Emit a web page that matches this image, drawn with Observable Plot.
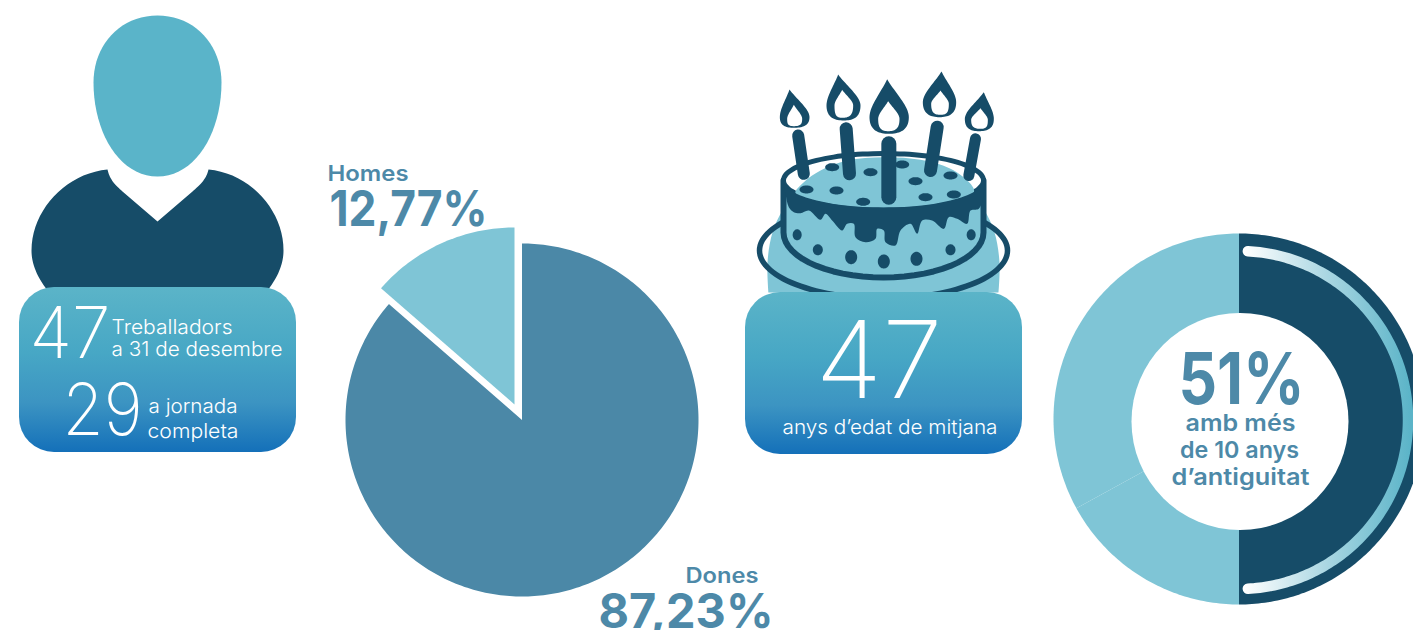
<!DOCTYPE html>
<html lang="ca">
<head>
<meta charset="utf-8">
<style>html,body{margin:0;padding:0;background:#fff;overflow:hidden}</style>
<script src="https://cdn.jsdelivr.net/npm/d3@7"></script>
<script src="https://cdn.jsdelivr.net/npm/@observablehq/plot@0.6"></script>
</head>
<body>
<script>
// Data as shown. The pie and the ring are drawn at the angles seen in the picture.
const pieCategories = ["Dones", "Homes"];
const pieLabels = ["87,23%", "12,77%"];
const pieDrawnShares = [86.4, 13.6];
const ringLabel = "51%";
const ringDrawnShares = [50, 17, 33];
const ringColors = ["#164c68", "#7fc5d6", "#7fc5d6"];
const workers = "47", fullTime = "29", meanAge = "47";

const NAVY = "#164c68", LIGHT = "#7fc5d6", MID = "#4b88a7", HEAD = "#5ab4c9", TXT = "#4d89a8";
const rad = d => d * Math.PI / 180;
const polar = (cx, cy, r, a) => [cx + r * Math.sin(rad(a)), cy - r * Math.cos(rad(a))];
function sector(cx, cy, r, a0, a1) {
  const p = [[cx, cy]];
  for (let a = a0; a < a1; a += 1) p.push(polar(cx, cy, r, a));
  p.push(polar(cx, cy, r, a1));
  return p;
}
function arc(cx, cy, r, a0, a1) { return sector(cx, cy, r, a0, a1).slice(1); }
function ell(cx, cy, rx, ry) {
  const p = [];
  for (let a = 0; a < 360; a += 6) p.push([cx + rx * Math.cos(rad(a)), cy + ry * Math.sin(rad(a))]);
  return p;
}
// outline from cubic segments: start, then [c1x,c1y,c2x,c2y,x,y] or [x,y] for a straight run
function outline(start, segs) {
  const p = [start];
  let cur = start;
  for (const s of segs) {
    if (s.length === 2) { p.push(s); cur = s; continue; }
    for (let i = 1; i <= 20; i++) {
      const t = i / 20, u = 1 - t;
      p.push([
        u*u*u*cur[0] + 3*u*u*t*s[0] + 3*u*t*t*s[2] + t*t*t*s[4],
        u*u*u*cur[1] + 3*u*u*t*s[1] + 3*u*t*t*s[3] + t*t*t*s[5]
      ]);
    }
    cur = [s[4], s[5]];
  }
  return p;
}
const shape = (pts, o = {}) => Plot.line(pts, {x: d => d[0], y: d => d[1], stroke: "none", ...o});
const cl = {curve: "catmull-rom-closed"};
const textWidths = [];
const txt = (s, x, y, size, weight, fill, width, anchor = "start") => {
  textWidths.push(width);
  return Plot.text([s], {x: () => x, y: () => y, text: d => d, fontSize: size, fontWeight: weight, fill, textAnchor: anchor,
    lineAnchor: "bottom", fontFamily: "Inter, 'Open Sans', sans-serif"});
};
const z = (zx, zy) => [740 + zx / 3, 60 + zy / 3];
const zs = a => a.map(([x, y]) => z(x, y));

// pie
const pieArcs = d3.pie().sort(null)(pieDrawnShares);
const toDeg = r => r * 180 / Math.PI;
const donesSlice = sector(521.5, 419.5, 176.5, toDeg(pieArcs[0].startAngle), toDeg(pieArcs[0].endAngle));
const homesSlice = sector(514, 404, 177, toDeg(pieArcs[1].startAngle), toDeg(pieArcs[1].endAngle));

// ring
const ringArcs = d3.pie().sort(null)(ringDrawnShares);
const ringMarks = ringArcs.map((a, i) =>
  shape(sector(1238.5, 418.5, 185.5, toDeg(a.startAngle), toDeg(a.endAngle)), {fill: ringColors[i]}));

// person
const headPts = outline([157,15], [[195,15,221,45,221,82],[221,132,195,176,157,176],[119,176,93,132,93,82],[93,45,119,15,157,15]]);
const bodyPts = outline([107,169], [[109,178,113,183,122,191],[157,221],[192,191],[201,183,206,178,208,169],[250,173,283,210,283,250],[283,265,276,280,262,296],[52,296],[38,280,31,265,31,250],[31,210,65,173,107,169]]);

// cake
const domePts = [[768,292],[767,262],[772,232],[783,208],[810,172],[850,160],[883,157],[916,160],[956,172],[983,208],[994,232],[999,262],[998,292]];
const bodyCake = [[783,180],...Array.from({length: 31}, (_, i) => { const a = 180 - i * 6; return [883 + 100 * Math.cos(rad(a)), 232 + 45 * Math.sin(rad(a))]; }),[983,180]];
const topFront = Array.from({length: 16}, (_, i) => { const a = i * 12; return [883 + 100 * Math.cos(rad(a)), 180 + 27 * Math.sin(rad(a))]; });
const icing = [...topFront, ...zs([[135,400],[145,440],[160,455],[180,458],[205,450],[240,478],[255,460],[275,480],[305,510],[320,490],[340,490],[345,530],[375,545],[405,535],[410,505],[430,510],[435,545],[465,555],[480,510],[510,490],[530,520],[545,480],[575,480],[610,505],[625,470],[650,475],[680,490],[690,450],[715,445],[730,400]])];
const topInner = zs([[165,398],[190,365],[240,330],[320,300],[430,290],[540,298],[630,325],[690,370],[700,395],[600,428],[430,442],[260,428]]);
const sideDots = [[170,523,4.5,5.5],[232,568,5,5.5],[332,590,6,7],[430,603,6,7],[528,595,6,7],[630,568,5,5.5],[692,523,4.5,5.5]];
const topDots = [[275,320],[390,335],[485,312],[525,362],[630,345],[640,402],[555,410],[368,424],[288,390],[198,387]];
const candles = [[173,225,190,340,12],[317,205,327,340,13],[445,250,445,410,15],[590,200,570,330,13],[705,235,685,345,11]];
const flames = [[147,87,118,207,170,160,202,160,133,140,185,175,197],[293,42,258,360,135,310,180,305,88,282,338,135,172],[440,56,387,505,170,445,220,443,122,413,477,175,212],[603,33,547,647,125,597,170,600,90,572,625,130,163],[730,95,673,760,175,715,212,720,143,692,742,178,205]];
function tear(tx, ty, l, r, wy, bx, by) {
  return zs(outline([tx, ty], [
    [tx + (r - tx) * .35, ty + (wy - ty) * .35, r, wy - (wy - ty) * .3, r, wy],
    [r, by - (by - wy) * .3, (r + bx) / 2 + 8, by, bx, by],
    [(l + bx) / 2 - 8, by, l, by - (by - wy) * .3, l, wy],
    [l, wy - (wy - ty) * .3, tx - (tx - l) * .35, ty + (wy - ty) * .35, tx, ty]
  ]));
}

const marks = [
  // person
  shape(bodyPts, {fill: NAVY}),
  shape(headPts, {fill: HEAD}),
  Plot.rect([0], {x1: () => 19, x2: () => 296, y1: () => 287, y2: () => 452, rx: 35, fill: "url(#boxGrad)"}),
  txt(workers, 29, 357, 72, 150, "#fff", 81),
  txt("Treballadors", 111, 333, 20, 300, "#fff", 121),
  txt("a 31 de desembre", 111, 355, 20, 300, "#fff", 171),
  txt(fullTime, 62, 434, 72, 150, "#fff", 80),
  txt("a jornada", 148, 412, 20, 300, "#fff", 89),
  txt("completa", 147, 437, 20, 300, "#fff", 91),

  // pie
  shape(donesSlice, {fill: MID}),
  shape(homesSlice, {fill: LIGHT}),
  txt(pieCategories[1], 327, 180, 22, 600, TXT, 81),
  txt(pieLabels[1], 329, 225, 50, 700, TXT, 158),
  txt(pieCategories[0], 685, 582, 21, 600, TXT, 73),
  txt(pieLabels[0], 598, 627, 48, 700, TXT, 175),

  // cake
  shape(domePts, {fill: LIGHT, curve: "catmull-rom"}),
  shape(ell(883, 250, 124, 48), {stroke: NAVY, strokeWidth: 5.5, ...cl}),
  shape(bodyCake, {fill: LIGHT, stroke: NAVY, strokeWidth: 6}),
  shape(ell(883, 180, 100, 27), {fill: "#fff", stroke: NAVY, strokeWidth: 5, ...cl}),
  shape(topInner, {fill: LIGHT, ...cl}),
  shape(icing, {fill: NAVY, curve: "catmull-rom-closed"}),
  ...sideDots.map(d => shape(ell(...z(d[0], d[1]), d[2], d[3]), {fill: NAVY, ...cl})),
  ...topDots.map(d => shape(ell(...z(d[0], d[1]), 7, 4), {fill: NAVY, ...cl})),
  ...candles.map(c => shape(zs([[c[0], c[1]], [c[2], c[3]]]), {stroke: NAVY, strokeWidth: c[4], strokeLinecap: "round"})),
  ...flames.flatMap(f => [
    shape(tear(f[0], f[1], f[2], f[3], f[4], f[5], f[6]), {fill: NAVY}),
    shape(tear(f[7], f[8], f[9], f[10], f[11], f[7], f[12]), {fill: "#fff"})
  ]),
  Plot.rect([0], {x1: () => 745, x2: () => 1022, y1: () => 292, y2: () => 454, rx: 35, fill: "url(#boxGrad)"}),
  txt(meanAge, 815, 397, 107, 150, "#fff", 127),
  txt("anys d\u2019edat de mitjana", 782, 433, 20, 300, "#fff", 215),

  // ring
  ...ringMarks,
  shape(arc(1238.5, 419.5, 169, 3, 177), {stroke: "url(#arcGrad)", strokeWidth: 10.5, strokeLinecap: "round"}),
  Plot.dot([0], {x: () => 1239.5, y: () => 421, r: 108.5, fill: "#fff", stroke: "none"}),
  txt(ringLabel, 1241, 403, 72, 700, TXT, 126, "middle"),
  txt("amb m\u00e9s", 1240, 430, 23, 600, TXT, 110, "middle"),
  txt("de 10 anys", 1239, 457, 23, 600, TXT, 119, "middle"),
  txt("d\u2019antiguitat", 1240, 484, 23, 600, TXT, 138, "middle")
];
const svg = Plot.plot({
  width: 1413, height: 630, margin: 0,
  x: {domain: [0, 1413], range: [0, 1413], axis: null},
  y: {domain: [0, 630], range: [0, 630], axis: null},
  style: {background: "#fff"},
  marks
});
svg.querySelectorAll("text").forEach((t, i) => {
  t.setAttribute("textLength", textWidths[i]);
  t.setAttribute("lengthAdjust", "spacingAndGlyphs");
});
d3.select(svg).append("defs").html(`
  <linearGradient id="boxGrad" x1="0" y1="0" x2="0" y2="1">
    <stop offset="0" stop-color="#5bb4c8"/><stop offset=".4" stop-color="#47a7c5"/>
    <stop offset=".7" stop-color="#3c94c2"/><stop offset="1" stop-color="#1470b9"/>
  </linearGradient>
  <linearGradient id="arcGrad" gradientUnits="userSpaceOnUse" x1="1244" y1="0" x2="1410" y2="0">
    <stop offset="0" stop-color="#fff"/><stop offset=".5" stop-color="#a9d6e2"/><stop offset="1" stop-color="#5bb4c8"/>
  </linearGradient>`);
document.body.appendChild(svg);
</script>
</body>
</html>
